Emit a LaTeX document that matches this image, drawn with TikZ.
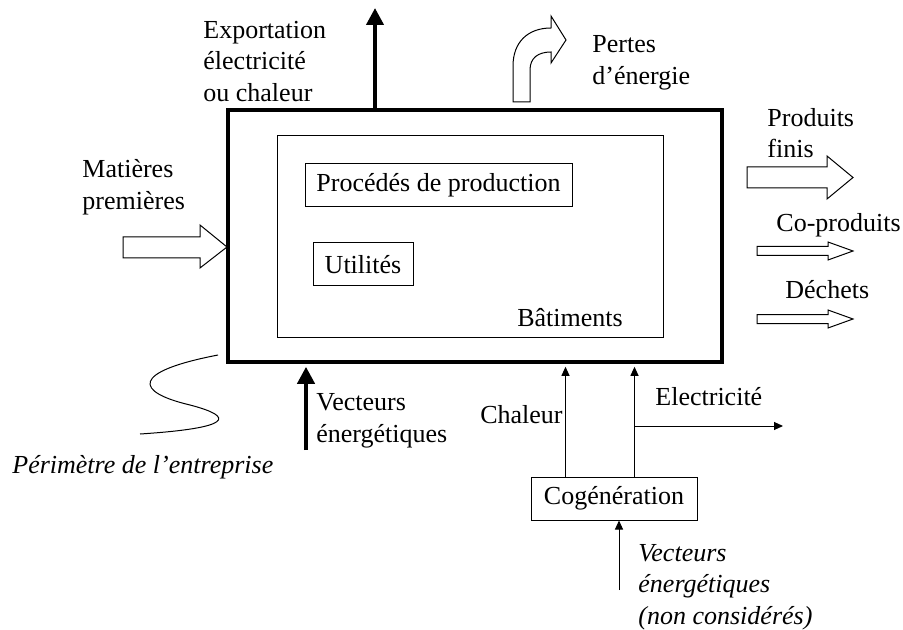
\documentclass[tikz,border=0pt]{standalone}
\usepackage{fontspec}
\setmainfont{Liberation Serif}
\usetikzlibrary{arrows.meta, calc}
\newcommand{\bodysize}{\fontsize{13}{15.75}\selectfont}

\begin{document}
\begin{tikzpicture}[
    x=0.5pt, y=-0.5pt,
    font=\bodysize,
    % Node styles
    box/.style={rectangle, draw, line width=0.5pt, inner sep=0pt},
    txt/.style={anchor=west, align=left, inner sep=0pt},
    hollow/.style={draw, line width=0.5pt, fill=white, line join=miter},
    heavy/.style={-{Triangle[length=8.5pt, width=8.5pt]}, line width=2pt},
    fine/.style={-{Triangle[length=4.5pt, width=4pt]}, line width=0.5pt},
]
\useasboundingbox (0,0) rectangle (903,630);

% ============================================================================
% SITE AND BUILDINGS
% ============================================================================
\node[box, line width=2.4pt, minimum width=247pt, minimum height=126pt] (site) at (475,236) {};
\node[box, minimum width=193pt, minimum height=100.5pt] (bati) at (470,236.5) {};
\node[box, minimum width=133.5pt, minimum height=21.5pt] (proc) at (438.5,185.5) {Procédés de production};
\node[box, minimum width=50pt, minimum height=21.5pt] (util) at (363,264.5) {Utilités};
\node (batlbl) at (570,318) {Bâtiments};

% Cogeneration unit
\node[box, minimum width=83pt, minimum height=21.5pt] (cogen) at (614,498.5) {Cogénération};

% ============================================================================
% LABELS
% ============================================================================
\node[txt] (exptxt) at (203,61.5) {Exportation\\électricité\\ou chaleur};
\node[txt] (perttxt) at (592,63) {Pertes\\d'énergie};
\node[txt] (mattxt) at (82,187) {Matières\\premières};
\node[txt] (prodtxt) at (767,133) {Produits\\finis};
\node[txt] (cotxt) at (776,225) {Co-produits};
\node[txt] (dechtxt) at (785,290) {Déchets};
\node[txt] (vectxt) at (316,421) {Vecteurs\\énergétiques};
\node[txt, anchor=east] (chtxt) at (563,415) {Chaleur};
\node[txt] (eltxt) at (655,397) {Electricité};
\node[txt, font=\bodysize\itshape] (perimtxt) at (12,467) {Périmètre de l'entreprise};
\node[txt, font=\bodysize\itshape] (vnctxt) at (638,587) {Vecteurs\\énergétiques\\(non considérés)};

% ============================================================================
% ENERGY FLOWS
% ============================================================================
\coordinate (exptop) at (375,8);
\draw[heavy] (exptop |- site.north) -- (exptop);

\coordinate (vecbot) at (306,450);
\draw[heavy, shorten >=1.2pt] (vecbot) -- (vecbot |- site.south);

\coordinate (chbot) at ([xshift=17.5pt]cogen.north west);
\coordinate (elbot) at ([xshift=52pt]cogen.north west);
\coordinate (eltip) at (783,426);
\draw[fine, shorten >=1.2pt] (chbot) -- (chbot |- site.south);
\draw[fine, shorten >=1.2pt] (elbot) -- (elbot |- site.south);
\draw[fine] (elbot |- eltip) -- (eltip);

\coordinate (vncbot) at (619,590);
\draw[fine] (vncbot) -- (vncbot |- cogen.south);

% ============================================================================
% MATERIAL FLOWS (hollow arrows)
% ============================================================================
% Matieres premieres
\draw[hollow] (123,237) -- (200,237) -- (200,225) -- (227,247) -- (200,268) -- (200,258) -- (123,258) -- cycle;
% Produits finis
\draw[hollow] (747,167) -- (827,167) -- (827,156) -- (853,177.5) -- (827,199) -- (827,188) -- (747,188) -- cycle;
% Co-produits, dechets
\foreach \y in {251, 319} {
    \draw[hollow] (757,\y-4.5) -- (828,\y-4.5) -- (828,\y-9) -- (853,\y) -- (828,\y+9) -- (828,\y+4.5) -- (757,\y+4.5) -- cycle;
}
% Pertes d'energie (bent arrow)
\draw[hollow] (513,102) -- (513,66) .. controls (513,42) and (528,28) .. (551,28) -- (551,16) -- (566,40) -- (551,63) -- (551,52) .. controls (538,52) and (530,58) .. (530,70) -- (530,102) -- cycle;

% Company boundary (squiggle)
\draw[line width=0.5pt] (218,355) .. controls (130,372) and (135,392) .. (190,405) .. controls (236,417) and (232,428) .. (140,434);

\end{tikzpicture}
\end{document}
